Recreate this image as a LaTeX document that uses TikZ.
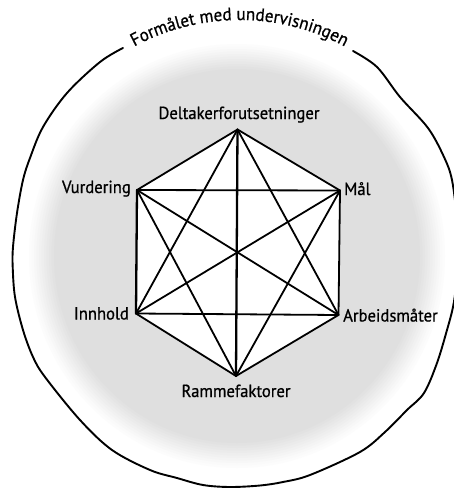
\documentclass[tikz,border=0pt]{standalone}
\usepackage{fontspec}
\setmainfont[FakeStretch=0.95,FakeBold=0.8]{PT Sans}
\usetikzlibrary{decorations.text}
\begin{document}
\begin{tikzpicture}[x=1pt,y=-1pt,
  lbl/.style={inner sep=0pt, font=\fontsize{17.5}{19}\selectfont},
  edge/.style={line width=1.8pt, line cap=round, line join=round},
  thickedge/.style={line width=2.3pt, line cap=round, line join=round},
  ring/.style={line width=1.9pt, line cap=round}]
\fill[white] (0,0) rectangle (454,488);
\clip (0,0) rectangle (454,488);
% stipple background, soft edged
\foreach \k in {0,...,10} {
  \pgfmathsetmacro\c{1+1.15*\k}
  \fill[black!\c] (237,256) ellipse [x radius={208-2.5*\k}, y radius={212-2.5*\k}];
}
% vertices
\coordinate (D) at (237.5,129.5);
\coordinate (V) at (137,190);
\coordinate (M) at (340,190.5);
\coordinate (I) at (136,313.5);
\coordinate (A) at (338.5,315);
\coordinate (R) at (236,376);
\fill[white] (D)--(M)--(A)--(R)--(I)--(V)--cycle;
\foreach \a/\b in {D/V,D/M,D/I,D/A,V/M,V/A,V/R,M/I,M/A,M/R,I/A,I/R,A/R}
  \draw[edge] (\a)--(\b);
\draw[thickedge] (D)--(R);
\draw[thickedge] (V)--(I);
% labels
\node[lbl, anchor=base] (lD) at (239,119) {Deltakerforutsetninger};
\node[lbl, anchor=base east] (lV) at (131,193) {Vurdering};
\node[lbl, anchor=base west] (lM) at (344,195) {Mål};
\node[lbl, anchor=base east] (lI) at (129,319.5) {Innhold};
\node[lbl, anchor=base west] (lA) at (343,321.5) {Arbeidsmåter};
\node[lbl, anchor=base] (lR) at (236,397) {Rammefaktorer};
% outer ring
\draw[ring] plot[smooth, tension=0.55] coordinates {(353,51) (377,67) (400,97) (428,128) (444,157) (452,180) (457,220) (458,250) (456,285) (453,307) (447,330) (437,363) (424,393) (407,410) (385,432) (360,452) (310,475) (283,482) (260,485.5) (230,487) (203,485) (177,478) (150,470) (112,450) (80,420) (45,377) (33,357) (23,330) (15,297) (12.7,267) (13,247) (17,213) (23,180) (30,158) (43,127) (67,93) (100,62) (123,48)};
% curved title
\coordinate (tS) at (125.2,51.7);
\path[decorate, decoration={text along path, text align=center,
  text={|\fontsize{18}{20}\selectfont|Formålet med undervisningen}}]
  (tS) arc [start angle=-121, end angle=-59, radius=222];
\end{tikzpicture}
\end{document}
